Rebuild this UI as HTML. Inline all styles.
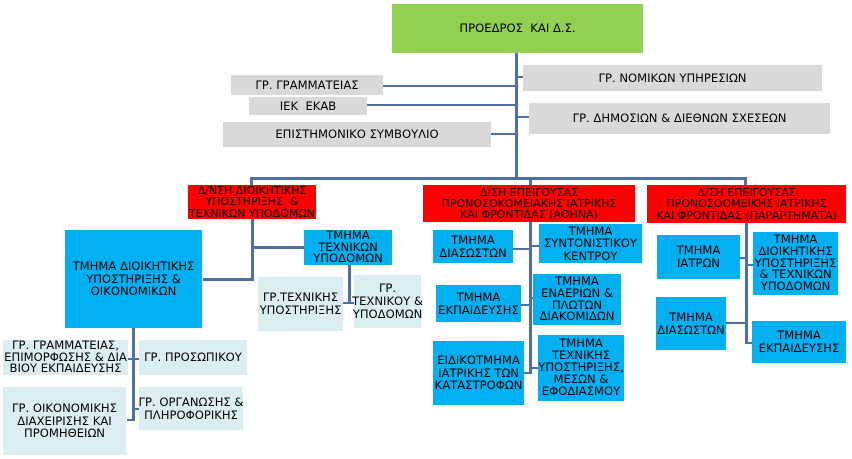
<!DOCTYPE html>
<html><head><meta charset="utf-8"><style>
body{margin:0;width:852px;height:459px;background:#fff;position:relative;overflow:hidden;font-family:"DejaVu Sans","Liberation Sans",sans-serif;font-size:11.6px;color:#000}
.b{position:absolute;display:flex;align-items:center;justify-content:center;text-align:center;line-height:1.1;box-sizing:border-box;white-space:nowrap}
.g{background:#92d050}.r{background:#ff0000;font-size:11px;line-height:1.02}.bl{background:#00b0f0}.gr{background:#d9d9d9}.lb{background:#dbeef4}
.l{position:absolute;background:#4f6fa0}
</style></head><body>
<div class="l" style="left:515px;top:53px;width:3px;height:126px"></div>
<div class="l" style="left:383px;top:85px;width:133px;height:2px"></div>
<div class="l" style="left:367px;top:104px;width:149px;height:2px"></div>
<div class="l" style="left:491px;top:133px;width:25px;height:2px"></div>
<div class="l" style="left:516px;top:76px;width:8px;height:2px"></div>
<div class="l" style="left:516px;top:116px;width:14px;height:2px"></div>
<div class="l" style="left:250px;top:177px;width:497px;height:3px"></div>
<div class="l" style="left:250px;top:177px;width:3px;height:8px"></div>
<div class="l" style="left:529px;top:177px;width:3px;height:8px"></div>
<div class="l" style="left:744px;top:177px;width:3px;height:8px"></div>
<div class="l" style="left:251px;top:219px;width:3px;height:62px"></div>
<div class="l" style="left:203px;top:278px;width:50px;height:3px"></div>
<div class="l" style="left:252px;top:246px;width:52px;height:3px"></div>
<div class="l" style="left:348px;top:265px;width:3px;height:38px"></div>
<div class="l" style="left:343px;top:302px;width:8px;height:2px"></div>
<div class="l" style="left:349px;top:302px;width:5px;height:2px"></div>
<div class="l" style="left:132px;top:328px;width:3px;height:93px"></div>
<div class="l" style="left:128px;top:358px;width:5px;height:2px"></div>
<div class="l" style="left:133px;top:358px;width:6px;height:2px"></div>
<div class="l" style="left:127px;top:419px;width:7px;height:2px"></div>
<div class="l" style="left:133px;top:408px;width:6px;height:2px"></div>
<div class="l" style="left:529px;top:222px;width:3px;height:152px"></div>
<div class="l" style="left:513px;top:248px;width:17px;height:2px"></div>
<div class="l" style="left:530px;top:245px;width:9px;height:2px"></div>
<div class="l" style="left:521px;top:304px;width:9px;height:2px"></div>
<div class="l" style="left:530px;top:297px;width:4px;height:2px"></div>
<div class="l" style="left:524px;top:372px;width:6px;height:2px"></div>
<div class="l" style="left:530px;top:367px;width:8px;height:2px"></div>
<div class="l" style="left:745px;top:222px;width:3px;height:122px"></div>
<div class="l" style="left:740px;top:257px;width:6px;height:2px"></div>
<div class="l" style="left:746px;top:264px;width:7px;height:2px"></div>
<div class="l" style="left:726px;top:322px;width:20px;height:2px"></div>
<div class="l" style="left:746px;top:342px;width:6px;height:2px"></div>
<div class="b g" style="left:392px;top:4px;width:251px;height:49px">ΠΡΟΕΔΡΟΣ &nbsp;ΚΑΙ Δ.Σ.</div>
<div class="b gr" style="left:231px;top:75px;width:152px;height:20px">ΓΡ. ΓΡΑΜΜΑΤΕΙΑΣ</div>
<div class="b gr" style="left:249px;top:97px;width:118px;height:18px">ΙΕΚ &nbsp;ΕΚΑΒ</div>
<div class="b gr" style="left:223px;top:122px;width:268px;height:25px">ΕΠΙΣΤΗΜΟΝΙΚΟ ΣΥΜΒΟΥΛΙΟ</div>
<div class="b gr" style="left:523px;top:65px;width:299px;height:26px">ΓΡ. ΝΟΜΙΚΩΝ ΥΠΗΡΕΣΙΩΝ</div>
<div class="b gr" style="left:529px;top:103px;width:301px;height:31px">ΓΡ. ΔΗΜΟΣΙΩΝ &amp; ΔΙΕΘΝΩΝ ΣΧΕΣΕΩΝ</div>
<div class="b r" style="left:188px;top:185px;width:128px;height:34px">Δ/ΝΣΗ ΔΙΟΙΚΗΤΙΚΗΣ<br>ΥΠΟΣΤΗΡΙΞΗΣ &nbsp;&amp;<br>ΤΕΧΝΙΚΩΝ ΥΠΟΔΟΜΩΝ</div>
<div class="b r" style="left:423px;top:185px;width:212px;height:37px">Δ/ΣΗ ΕΠΕΙΓΟΥΣΑΣ<br>ΠΡΟΝΟΣΟΚΟΜΕΙΑΚΗΣ ΙΑΤΡΙΚΗΣ<br>ΚΑΙ ΦΡΟΝΤΙΔΑΣ (ΑΘΗΝΑ)</div>
<div class="b r" style="left:647px;top:185px;width:199px;height:38px">Δ/ΣΗ ΕΠΕΙΓΟΥΣΑΣ<br>ΠΡΟΝΟΣΟΟΜΕΙΚΗΣ ΙΑΤΡΙΚΗΣ<br>ΚΑΙ ΦΡΟΝΤΙΔΑΣ (ΠΑΡΑΡΤΗΜΑΤΑ)</div>
<div class="b bl" style="left:65px;top:230px;width:137px;height:98px">ΤΜΗΜΑ ΔΙΟΙΚΗΤΙΚΗΣ<br>ΥΠΟΣΤΗΡΙΞΗΣ &amp;<br>ΟΙΚΟΝΟΜΙΚΩΝ</div>
<div class="b bl" style="left:304px;top:230px;width:88px;height:35px;line-height:1.0">ΤΜΗΜΑ<br>ΤΕΧΝΙΚΩΝ<br>ΥΠΟΔΟΜΩΝ</div>
<div class="b lb" style="left:258px;top:277px;width:85px;height:54px">ΓΡ.ΤΕΧΝΙΚΗΣ<br>ΥΠΟΣΤΗΡΙΞΗΣ</div>
<div class="b lb" style="left:354px;top:275px;width:67px;height:53px">ΓΡ.<br>ΤΕΧΝΙΚΟΥ &amp;<br>ΥΠΟΔΟΜΩΝ</div>
<div class="b lb" style="left:3px;top:340px;width:125px;height:35px;line-height:1.0">ΓΡ. ΓΡΑΜΜΑΤΕΙΑΣ,<br>ΕΠΙΜΟΡΦΩΣΗΣ &amp; ΔΙΑ<br>ΒΙΟΥ ΕΚΠΑΙΔΕΥΣΗΣ</div>
<div class="b lb" style="left:139px;top:340px;width:108px;height:35px">ΓΡ. ΠΡΟΣΩΠΙΚΟΥ</div>
<div class="b lb" style="left:3px;top:387px;width:123px;height:68px">ΓΡ. ΟΙΚΟΝΟΜΙΚΗΣ<br>ΔΙΑΧΕΙΡΙΣΗΣ ΚΑΙ<br>ΠΡΟΜΗΘΕΙΩΝ</div>
<div class="b lb" style="left:139px;top:387px;width:104px;height:43px">ΓΡ. ΟΡΓΑΝΩΣΗΣ &amp;<br>ΠΛΗΡΟΦΟΡΙΚΗΣ</div>
<div class="b bl" style="left:433px;top:230px;width:80px;height:33px">ΤΜΗΜΑ<br>ΔΙΑΣΩΣΤΩΝ</div>
<div class="b bl" style="left:539px;top:224px;width:103px;height:39px;line-height:1.05">ΤΜΗΜΑ<br>ΣΥΝΤΟΝΙΣΤΙΚΟΥ<br>ΚΕΝΤΡΟΥ</div>
<div class="b bl" style="left:436px;top:285px;width:85px;height:37px">ΤΜΗΜΑ<br>ΕΚΠΑΙΔΕΥΣΗΣ</div>
<div class="b bl" style="left:533px;top:274px;width:88px;height:51px;line-height:1.02">ΤΜΗΜΑ<br>ΕΝΑΕΡΙΩΝ &amp;<br>ΠΛΩΤΩΝ<br>ΔΙΑΚΟΜΙΔΩΝ</div>
<div class="b bl" style="left:433px;top:341px;width:91px;height:64px">ΕΙΔΙΚΟΤΜΗΜΑ<br>ΙΑΤΡΙΚΗΣ ΤΩΝ<br>ΚΑΤΑΣΤΡΟΦΩΝ</div>
<div class="b bl" style="left:538px;top:335px;width:86px;height:66px;line-height:1.02">ΤΜΗΜΑ<br>ΤΕΧΝΙΚΗΣ<br>ΥΠΟΣΤΗΡΙΞΗΣ,<br>ΜΕΣΩΝ &amp;<br>ΕΦΟΔΙΑΣΜΟΥ</div>
<div class="b bl" style="left:657px;top:235px;width:83px;height:44px">ΤΜΗΜΑ<br>ΙΑΤΡΩΝ</div>
<div class="b bl" style="left:753px;top:232px;width:85px;height:63px;line-height:1.02">ΤΜΗΜΑ<br>ΔΙΟΙΚΗΤΙΚΗΣ<br>ΥΠΟΣΤΗΡΙΞΗΣ<br>&amp; ΤΕΧΝΙΚΩΝ<br>ΥΠΟΔΟΜΩΝ</div>
<div class="b bl" style="left:656px;top:297px;width:70px;height:53px">ΤΜΗΜΑ<br>ΔΙΑΣΩΣΤΩΝ</div>
<div class="b bl" style="left:752px;top:321px;width:94px;height:42px">ΤΜΗΜΑ<br>ΕΚΠΑΙΔΕΥΣΗΣ</div>
</body></html>
